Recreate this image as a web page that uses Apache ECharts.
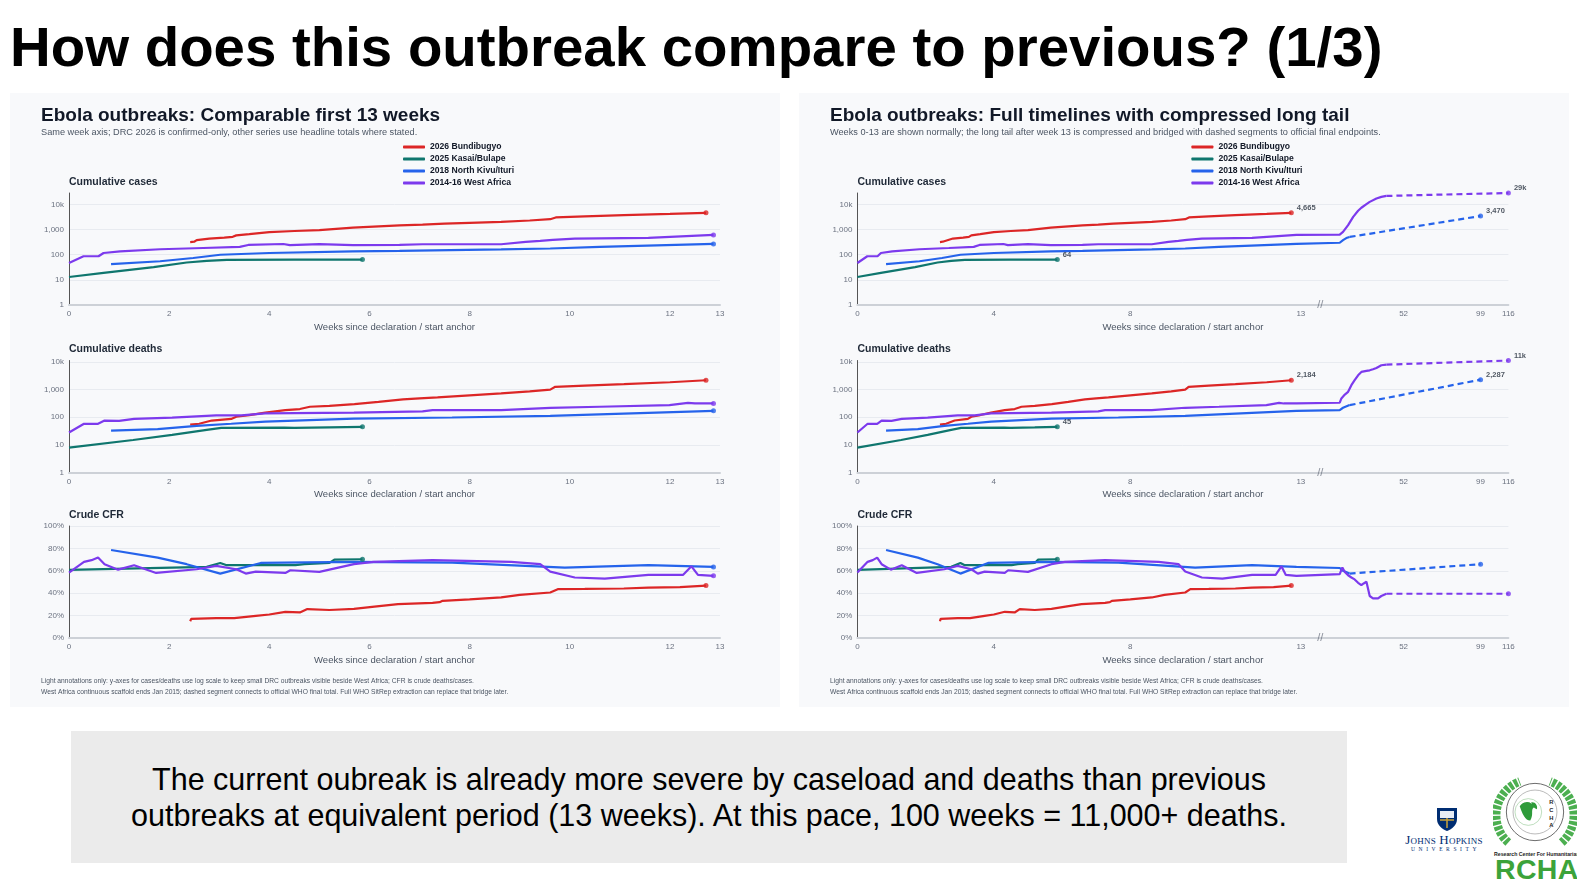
<!DOCTYPE html>
<html>
<head>
<meta charset="utf-8">
<title>How does this outbreak compare to previous? (1/3)</title>
<script src="https://cdn.jsdelivr.net/npm/echarts@6/dist/echarts.min.js"></script>
<style>
  body { margin: 0; width: 1577px; height: 880px; background: #fff; position: relative; overflow: hidden;
         font-family: 'Liberation Sans', Arial, sans-serif; }
  h1 { position: absolute; left: 10px; top: 19px; margin: 0; font-size: 56.4px; line-height: 56px; font-weight: bold; color: #000; white-space: nowrap; }
  .panel { position: absolute; top: 93px; width: 770px; height: 614px; background: #f8f9fb; }
  .note { position: absolute; left: 71px; top: 731px; width: 1276px; height: 132px; background: #ebebeb;
          display: flex; align-items: center; justify-content: center; text-align: center;
          font-size: 30.5px; line-height: 36px; color: #000; }
  .jhu { position: absolute; left: 1392px; top: 806px; width: 104px; text-align: center; color: #002d72;
         font-family: 'Liberation Serif', 'DejaVu Serif', serif; }
  .jhu .name { font-size: 13px; line-height: 13px; margin-top: 2px; font-variant: small-caps; letter-spacing: 0.2px; }
  .jhu .uni { font-size: 5.5px; line-height: 7px; letter-spacing: 3.6px; margin-left: 3px; }
  .rcha-sub { position: absolute; left: 1494px; top: 851px; width: 90px; font-size: 5.2px; font-weight: bold; color: #222; white-space: nowrap; }
  .rcha { position: absolute; left: 1495px; top: 855px; font-size: 28.5px; line-height: 29px; font-weight: bold; color: #3ca33a; letter-spacing: 0.3px; }
</style>
</head>
<body>
<h1>How does this outbreak compare to previous? (1/3)</h1>
<div id="left" class="panel" style="left:10px"></div>
<div id="right" class="panel" style="left:799px"></div>
<div class="note">The current oubreak is already more severe by caseload and deaths than previous<br>outbreaks at equivalent period (13 weeks). At this pace, 100 weeks = 11,000+ deaths.</div>

<svg style="position:absolute;left:1434px;top:806px" width="26" height="26" viewBox="0 0 26 26">
  <path d="M3 2 H23 V13 C23 19 18 23 13 25 C8 23 3 19 3 13 Z" fill="#002d72"/>
  <path d="M6 5 H20 V12 H6 Z" fill="#e8edf5"/>
  <path d="M13 12 V22 M6 14 H20" stroke="#c9a23a" stroke-width="1.5"/>
</svg>
<div class="jhu"><div style="height:25px"></div><div class="name">Johns Hopkins</div><div class="uni">UNIVERSITY</div></div>

<svg style="position:absolute;left:1493px;top:772px" width="84" height="80" viewBox="0 0 88 80">
  <path d="M16 72 A38 38 0 0 1 28 8" fill="none" stroke="#4caf50" stroke-width="9" stroke-dasharray="4 1.5"/>
  <path d="M72 72 A38 38 0 0 0 60 8" fill="none" stroke="#4caf50" stroke-width="9" stroke-dasharray="4 1.5"/>
  <circle cx="44" cy="40" r="30" fill="#fff" stroke="#666" stroke-width="1"/>
  <circle cx="44" cy="40" r="23" fill="none" stroke="#999" stroke-width="0.7"/>
  <circle cx="37" cy="40" r="14" fill="#fff" stroke="#8cc58c" stroke-width="0.6"/>
  <path d="M28 34 C33 27 41 29 43 35 C39 38 43 42 39 49 C34 49 31 43 28 34 Z" fill="#2e9b3a"/>
  <path d="M40 30 C44 29 47 33 46 37 C43 36 41 34 40 30 Z" fill="#2e9b3a"/>
  <text x="59" y="32" font-size="6" font-weight="bold" fill="#222" font-family="Liberation Sans">R</text>
  <text x="59" y="40" font-size="6" font-weight="bold" fill="#222" font-family="Liberation Sans">C</text>
  <text x="59" y="48" font-size="6" font-weight="bold" fill="#222" font-family="Liberation Sans">H</text>
  <text x="59" y="56" font-size="6" font-weight="bold" fill="#222" font-family="Liberation Sans">A</text>
</svg>
<div class="rcha-sub">Research Center For Humanitarian Aid</div>
<div class="rcha">RCHA</div>

<script>
// ---- data: [weeks since declaration, value] ----
var bundibugyoCases = [[2.42,320],[2.5,330],[2.55,380],[2.8,440],[3.1,480],[3.27,515],[3.34,590],[3.6,660],[4.0,790],[4.5,880],[5.0,960],[5.67,1200],[6.6,1480],[7.06,1590],[7.5,1720],[8.0,1850],[8.63,2030],[9.2,2300],[9.61,2600],[9.72,3050],[10.3,3350],[11.08,3750],[12.0,4200],[12.72,4665]];
var bundibugyoDeaths = [[2.42,54],[2.6,58],[2.85,76],[3.24,87],[3.34,104],[3.6,120],[3.92,147],[4.32,181],[4.61,198],[4.81,240],[5.2,256],[5.7,300],[6.18,362],[6.67,440],[7.0,480],[7.36,520],[8.0,620],[8.63,725],[9.2,860],[9.61,1000],[9.71,1260],[10.3,1400],[11.08,1580],[12.0,1850],[12.72,2184]];
var bundibugyoCfr = [[2.42,15],[2.44,17.1],[2.94,17.8],[3.3,17.8],[3.73,19.8],[4.0,21],[4.32,23.4],[4.61,22.8],[4.76,25.8],[5.2,25],[5.69,26],[6.1,28],[6.57,30.2],[7.26,31.4],[7.4,32],[7.46,33.2],[8.0,34.5],[8.63,36.2],[9.0,38.5],[9.61,40.6],[9.76,43.6],[10.3,43.8],[11.08,44.2],[11.57,45],[12.2,45.5],[12.72,46.8]];

var kasaiCases = [[0,13],[0.69,19],[1.69,32],[2.35,49],[2.75,57],[3.15,63],[4.5,64],[5.86,64]];
var kasaiDeaths = [[0,8],[1.28,15],[2.06,23],[2.75,35],[3.04,41],[4.3,42],[4.5,41],[5.2,43],[5.86,45]];
var kasaiCfr = [[0,60.8],[2.75,63.5],[3.02,67],[3.15,65],[4.52,65],[4.7,66],[5.2,67],[5.3,70],[5.86,70.3]];

var kivuCases = [[0.84,42],[1.82,55],[2.48,74],[3.02,100],[4.0,117],[5.67,135],[6.6,142],[8.63,162],[9.61,177],[10.6,205],[12.87,270]];
var kivuDeaths = [[0.84,33],[1.77,37],[2.55,49],[3.24,58],[3.92,69],[5.69,89],[7.65,98],[9.61,112],[12.87,170]];
var kivuCfr = [[0.84,78.6],[1.77,71.8],[2.35,65.9],[3.02,57.5],[3.83,67],[5.69,68],[7.65,67.3],[9.9,62.9],[11.57,65],[12.87,63.5]];
var kivuCasesTail = [[13,300],[15,380],[17,460],[19,510]];
var kivuDeathsTail = [[13,182],[15,220],[19,275]];
var kivuCfrTail = [[13,62.5],[15,60],[19,57.5]];
var kivuFinal = { week: 99, cases: 3470, deaths: 2287, cfr: 65.9 };

var westAfricaCases = [[0,47],[0.29,87],[0.59,87],[0.69,117],[1.02,135],[1.82,165],[2.68,185],[3.41,205],[3.58,245],[4.28,267],[4.41,240],[5.0,265],[5.67,240],[6.6,245],[7.06,262],[8.63,262],[9.12,325],[9.41,355],[9.66,390],[10.1,435],[11.57,465],[12.87,615]];
var westAfricaDeaths = [[0,28],[0.3,58],[0.58,58],[0.71,76],[1.0,74],[1.3,87],[2.06,97],[2.94,117],[3.44,117],[3.92,138],[5.69,147],[7.06,163],[7.26,181],[8.63,181],[9.61,220],[10.6,240],[11.99,275],[12.36,330],[12.5,315],[12.87,315]];
var westAfricaCfr = [[0,58.4],[0.3,68],[0.45,69.5],[0.58,71.8],[0.71,65.9],[0.98,61],[1.3,65],[1.74,58.1],[2.55,61.4],[2.94,64.4],[3.34,61.4],[3.53,57.5],[3.73,59.3],[4.32,58.1],[4.42,60.5],[5.0,59],[5.69,65.9],[6.08,68],[7.26,69.5],[8.83,68],[9.41,66],[9.61,59.3],[10.1,54],[10.7,53],[11.57,56.3],[12.26,56.3],[12.43,64],[12.56,56.3],[12.87,55.5]];
var westAfricaCasesTail = [[13,630],[15,810],[18.1,1500],[21.2,3200],[24.2,5600],[26.2,7400],[29.3,10300],[31.3,12700],[35.4,17400],[38.4,20000],[41.5,21900]];
var westAfricaDeathsTail = [[13,335],[14,480],[16.1,660],[18.1,830],[20.1,1450],[22.1,2200],[24.2,3300],[26.2,4370],[29.3,4750],[31.3,5000],[33.3,5450],[35.4,6100],[38.4,7600],[41.5,8000]];
var westAfricaCfrTail = [[13,57],[14.6,63],[16.1,59],[18.1,56],[20.1,54],[22.1,52.3],[24.2,49.3],[26.2,47.2],[27.6,48.7],[29.3,50.2],[30.3,48.5],[31.3,37.5],[33.3,35.4],[36.4,35.4],[38.4,37.5],[41.5,39.5]];
var westAfricaFinal = { week: 116, cases: 28616, deaths: 11310, cfr: 39.5 };

var outbreakNames = ['2026 Bundibugyo', '2025 Kasai/Bulape', '2018 North Kivu/Ituri', '2014-16 West Africa'];
var outbreakColors = ['#dc2626', '#0f766e', '#2563eb', '#7c3aed'];
var leftTicks = [0, 2, 4, 6, 8, 10, 12, 13];
var rightTicks = [0, 4, 8, 13, 52, 99, 116];

var outbreaks = [
  { cases: bundibugyoCases, deaths: bundibugyoDeaths, cfr: bundibugyoCfr },
  { cases: kasaiCases, deaths: kasaiDeaths, cfr: kasaiCfr },
  { cases: kivuCases, deaths: kivuDeaths, cfr: kivuCfr,
    tail: { cases: kivuCasesTail, deaths: kivuDeathsTail, cfr: kivuCfrTail }, final: kivuFinal },
  { cases: westAfricaCases, deaths: westAfricaDeaths, cfr: westAfricaCfr,
    tail: { cases: westAfricaCasesTail, deaths: westAfricaDeathsTail, cfr: westAfricaCfrTail }, final: westAfricaFinal }
];

// compressed long tail: weeks after 13 squeezed after a small gap
var GAP = 1.14, TAIL_K = 0.048;
function tailX(w) { return 13 + GAP + (w - 13) * TAIL_K; }
function rightX(w) { return w <= 13 ? w : tailX(w); }

function fmtCount(v) {
  return v >= 10000 ? Math.round(v / 1000) + 'k' : Math.round(v).toLocaleString('en-US');
}

var metrics = [
  { key: 'cases', title: 'Cumulative cases', log: true, max: westAfricaFinal.cases },
  { key: 'deaths', title: 'Cumulative deaths', log: true, max: westAfricaFinal.deaths },
  { key: 'cfr', title: 'Crude CFR', log: false, max: 100 }
];
var gridTops = [100, 267.5, 433];

function buildPanel(el, isRight, gridLeft, title, subtitle) {
  var chart = echarts.init(el);
  var grids = [], xAxes = [], yAxes = [], series = [];

  metrics.forEach(function (m, i) {
    grids.push({ left: gridLeft, top: gridTops[i], width: 651, height: 112 });
    var ticks = isRight ? rightTicks : leftTicks;
    xAxes.push({
      type: 'value', gridIndex: i, min: 0, max: isRight ? tailX(116) : 13,
      name: 'Weeks since declaration / start anchor', nameLocation: 'middle', nameGap: 17,
      nameTextStyle: { fontSize: 9.5, color: '#4b5563' },
      axisLine: { lineStyle: { color: '#cdd1d7', width: 2 } },
      axisTick: { show: false }, splitLine: { show: false },
      axisLabel: {
        customValues: ticks.map(function (t) { return isRight ? rightX(t) : t; }),
        fontSize: 8, color: '#6b7280', margin: 5,
        formatter: function (v) {
          for (var k = 0; k < ticks.length; k++) {
            if (Math.abs((isRight ? rightX(ticks[k]) : ticks[k]) - v) < 1e-6) return String(ticks[k]);
          }
          return '';
        }
      }
    });
    yAxes.push({
      type: m.log ? 'log' : 'value', logBase: 10, gridIndex: i, min: m.log ? 1 : 0, max: m.max,
      interval: m.log ? undefined : 20,
      axisLine: { show: true, lineStyle: { color: '#555', width: 1 } },
      axisTick: { show: false },
      splitLine: { show: true, showMinLine: false, showMaxLine: !m.log, lineStyle: { color: '#e8ebf0', width: 1 } },
      axisLabel: {
        fontSize: 8, color: '#6b7280', margin: 5,
        formatter: function (v) {
          if (!m.log) return v + '%';
          var l = Math.log10(v);
          if (Math.abs(l - Math.round(l)) > 1e-6) return '';
          return v >= 10000 ? (v / 1000) + 'k' : v.toLocaleString('en-US');
        }
      }
    });

    outbreaks.forEach(function (o, j) {
      var color = outbreakColors[j];
      var pts = o[m.key].slice();
      if (isRight && o.tail) {
        pts = pts.concat(o.tail[m.key].map(function (p) { return [tailX(p[0]), p[1]]; }));
      }
      series.push({
        name: outbreakNames[j], type: 'line', xAxisIndex: i, yAxisIndex: i,
        data: pts, showSymbol: false, symbol: 'none',
        lineStyle: { color: color, width: 2.2 }, itemStyle: { color: color }, z: 2 + j
      });
      var end = pts[pts.length - 1];
      if (isRight && o.final) {
        var fin = [tailX(o.final.week), o.final[m.key]];
        series.push({
          name: outbreakNames[j], type: 'line', xAxisIndex: i, yAxisIndex: i,
          data: [end, fin], showSymbol: false, symbol: 'none',
          lineStyle: { color: color, width: 2.2, type: [6, 4] }, itemStyle: { color: color }, z: 2 + j
        });
        end = fin;
      }
      series.push({
        name: outbreakNames[j], type: 'scatter', xAxisIndex: i, yAxisIndex: i,
        data: [end], symbolSize: 5, itemStyle: { color: color }, z: 6,
        label: {
          show: isRight && m.log, position: 'right', distance: 3, offset: [0, -5],
          fontSize: 7.5, fontWeight: 'bold', color: '#1f2937',
          formatter: function (p) { return fmtCount(p.value[1]); }
        }
      });
    });

    if (isRight) {
      series.push({
        type: 'scatter', xAxisIndex: i, yAxisIndex: i, silent: true,
        data: [[13 + GAP / 2, m.log ? 1 : 0]], symbolSize: 0, z: 8,
        label: { show: true, position: 'inside', formatter: '//', fontSize: 11, color: '#6b7280' }
      });
    }
  });

  var graphics = [
    { type: 'text', style: { text: title, x: 31, y: 22.5, textVerticalAlign: 'middle',
      font: 'bold 19px "Liberation Sans", Arial, sans-serif', fill: '#111827' } },
    { type: 'text', style: { text: subtitle, x: 31, y: 39.5, textVerticalAlign: 'middle',
      font: '9.2px "Liberation Sans", Arial, sans-serif', fill: '#4b5563' } },
    { type: 'text', style: { text: 'Light annotations only: y-axes for cases/deaths use log scale to keep small DRC outbreaks visible beside West Africa; CFR is crude deaths/cases.',
      x: 31, y: 588, textVerticalAlign: 'middle', font: '6.7px "Liberation Sans", Arial, sans-serif', fill: '#4b5563' } },
    { type: 'text', style: { text: 'West Africa continuous scaffold ends Jan 2015; dashed segment connects to official WHO final total. Full WHO SitRep extraction can replace that bridge later.',
      x: 31, y: 599, textVerticalAlign: 'middle', font: '6.7px "Liberation Sans", Arial, sans-serif', fill: '#4b5563' } }
  ];
  metrics.forEach(function (m, i) {
    graphics.push({ type: 'text', style: { text: m.title, x: gridLeft, y: gridTops[i] - 11, textVerticalAlign: 'middle',
      font: 'bold 10.5px "Liberation Sans", Arial, sans-serif', fill: '#1f2937' } });
  });

  chart.setOption({
    backgroundColor: 'transparent',
    animation: false,
    textStyle: { fontFamily: '"Liberation Sans", Arial, sans-serif' },
    legend: {
      orient: 'vertical', left: gridLeft + 329, top: 44, data: outbreakNames,
      icon: 'roundRect', itemWidth: 22, itemHeight: 3, itemGap: 2,
      textStyle: { fontSize: 8.6, fontWeight: 'bold', color: '#111827', lineHeight: 10 }
    },
    graphic: graphics,
    grid: grids, xAxis: xAxes, yAxis: yAxes, series: series
  });
}

buildPanel(document.getElementById('left'), false, 59,
  'Ebola outbreaks: Comparable first 13 weeks',
  'Same week axis; DRC 2026 is confirmed-only, other series use headline totals where stated.');
buildPanel(document.getElementById('right'), true, 58.4,
  'Ebola outbreaks: Full timelines with compressed long tail',
  'Weeks 0-13 are shown normally; the long tail after week 13 is compressed and bridged with dashed segments to official final endpoints.');
</script>
</body>
</html>
